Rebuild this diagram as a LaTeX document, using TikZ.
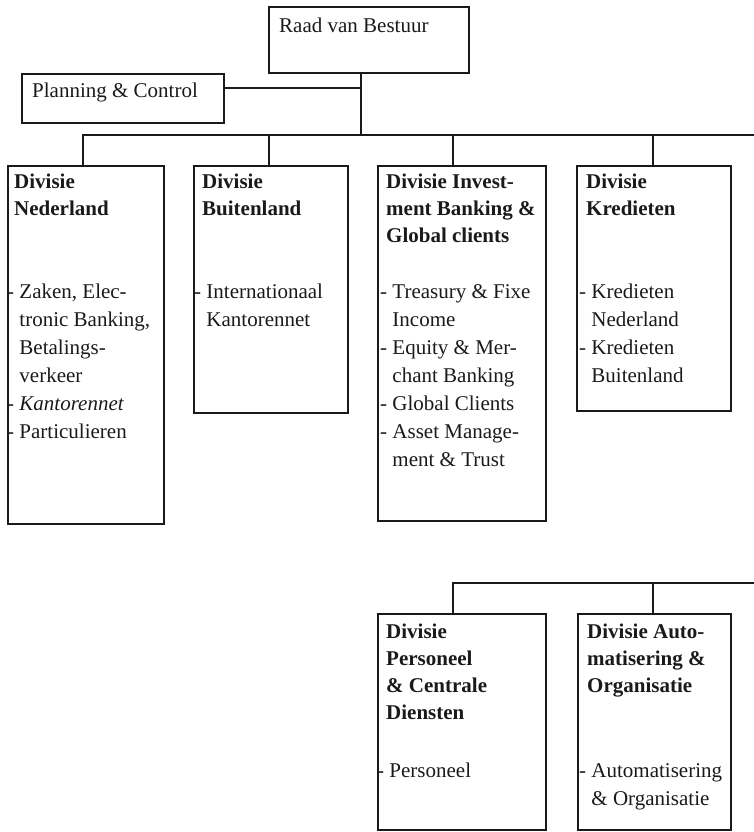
\documentclass[tikz,border=0pt]{standalone}
\usepackage{fontspec}
\setmainfont{Liberation Serif}
\definecolor{ink}{HTML}{1A1A1A}
\newcommand{\ind}{\phantom{-\ }}
\begin{document}
\begin{tikzpicture}[x=1pt,y=-1pt,
  box/.style={draw=ink, line width=1.8pt, rectangle, inner sep=0pt, anchor=north west},
  link/.style={draw=ink, line width=1.5pt},
  plain/.style={anchor=north west, inner sep=0pt, align=left, text=ink,
    font=\fontsize{21}{27}\selectfont, yshift=18.9pt},
  title/.style={anchor=north west, inner sep=0pt, align=left, text=ink,
    font=\fontsize{21}{27}\selectfont\bfseries, yshift=18.9pt},
  items/.style={anchor=north west, inner sep=0pt, align=left, text=ink,
    font=\fontsize{21}{28}\selectfont, yshift=19.6pt},
]
\useasboundingbox (0,0) rectangle (754,832);

% board and staff
\node[box, minimum width=200pt, minimum height=66pt] (raad) at (268,6) {};
\node[plain] (raadt) at (279,32) {\strut Raad van Bestuur};
\node[box, minimum width=202pt, minimum height=49pt] (plan) at (21,73) {};
\node[plain] (plant) at (32,97) {\strut Planning \& Control};

% divisions, first row
\node[box, minimum width=156pt, minimum height=358pt] (ned) at (7,165) {};
\node[box, minimum width=154pt, minimum height=247pt] (buit) at (193,165) {};
\node[box, minimum width=168pt, minimum height=355pt] (inv) at (377,165) {};
\node[box, minimum width=154pt, minimum height=245pt] (kred) at (576,165) {};

% divisions, second row
\node[box, minimum width=168pt, minimum height=216pt] (pers) at (377,613) {};
\node[box, minimum width=153pt, minimum height=216pt] (auto) at (577,613) {};

% division names
\node[title] (nedt) at (14,188) {\strut Divisie\\Nederland};
\node[title] (buitt) at (202,188) {\strut Divisie\\Buitenland};
\node[title] (invt) at (386,188) {\strut Divisie Invest-\\ment Banking \&\\Global clients};
\node[title] (kredt) at (586,188) {\strut Divisie\\Kredieten};
\node[title] (perst) at (386,638) {\strut Divisie\\Personeel\\\& Centrale\\Diensten};
\node[title] (autot) at (587,638) {\strut Divisie Auto-\\matisering \&\\Organisatie};

% units per division
\node[items] (nedi) at (7,298) {\strut - Zaken, Elec-\\\ind tronic Banking,\\\ind Betalings-\\\ind verkeer\\- \textit{Kantorennet}\\- Particulieren};
\node[items] (buiti) at (194,298) {\strut - Internationaal\\\ind Kantorennet};
\node[items] (invi) at (380,298) {\strut - Treasury \& Fixe\\\ind Income\\- Equity \& Mer-\\\ind chant Banking\\- Global Clients\\- Asset Manage-\\\ind ment \& Trust};
\node[items] (kredi) at (579,298) {\strut - Kredieten\\\ind Nederland\\- Kredieten\\\ind Buitenland};
\node[items] (persi) at (377,777) {\strut - Personeel};
\node[items] (autoi) at (579,777) {\strut - Automatisering\\\ind \& Organisatie};

% junction points of the connectors
\coordinate (j0) at (361,88);
\coordinate (j1) at (361,135);
\coordinate (d1) at (83,135);
\coordinate (d2) at (269,135);
\coordinate (d3) at (453,135);
\coordinate (d4) at (653,135);
\coordinate (busE) at (754,135);
\coordinate (e1) at (453,583);
\coordinate (e2) at (653,583);
\coordinate (busF) at (754,583);

% connectors
\draw[link] (j1 |- raad.south) -- (j1);
\draw[link] (plan.east |- j0) -- (j0);
\draw[link] (d1 |- ned.north) -- (d1) -- (busE);
\draw[link] (d2) -- (d2 |- buit.north);
\draw[link] (d3) -- (d3 |- inv.north);
\draw[link] (d4) -- (d4 |- kred.north);
\draw[link] (e1 |- pers.north) -- (e1) -- (busF);
\draw[link] (e2) -- (e2 |- auto.north);
\end{tikzpicture}
\end{document}
